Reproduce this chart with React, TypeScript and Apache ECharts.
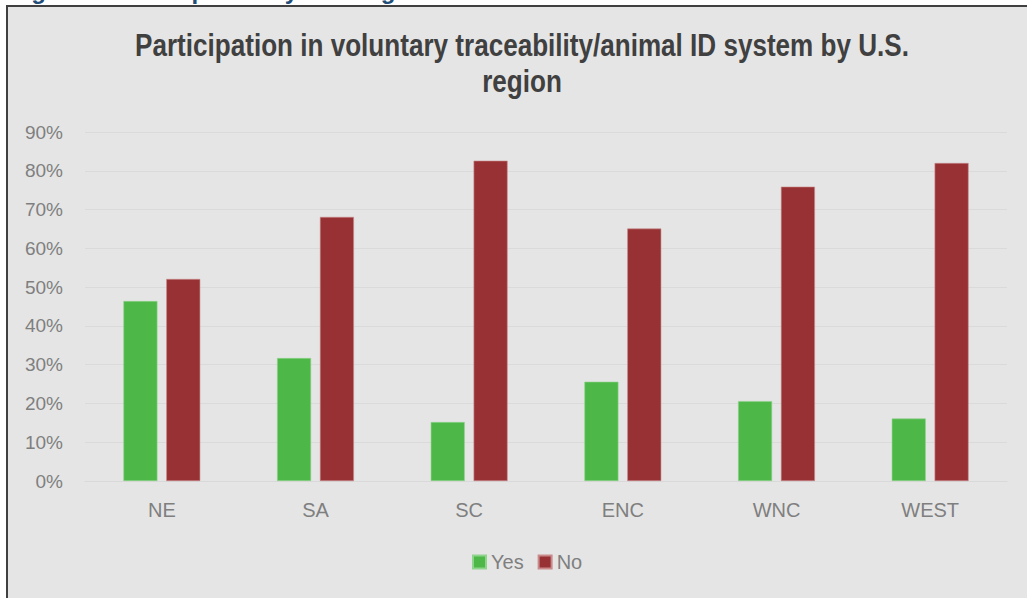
import React, { useEffect, useRef } from "react";
import * as echarts from "echarts";

// Regions along the x axis
const regions = ["NE", "SA", "SC", "ENC", "WNC", "WEST"];
// Share of respondents participating (Yes) / not participating (No)
const yesShare = [0.464, 0.317, 0.152, 0.256, 0.206, 0.161];
const noShare = [0.521, 0.681, 0.826, 0.651, 0.759, 0.820];
const seriesNames = ["Yes", "No"];

const titleLines = ["Participation in voluntary traceability/animal ID system by U.S.", "region"];
const figureCaption = "Figure 4: Participation by U.S. region";

const FONT = "'Liberation Sans', Arial, sans-serif";

export default function App() {
  const ref = useRef<HTMLDivElement>(null);

  useEffect(() => {
    document.body.style.margin = "0";
    if (!ref.current) return;
    const chart = echarts.init(ref.current, null, { renderer: "svg" });

    // Condensed bold title, one text element per line
    const titleGraphics = titleLines.map((line, i) => ({
      type: "text",
      x: 522,
      y: 45.5 + i * 36,
      scaleX: 0.815,
      z: 5,
      style: {
        text: line,
        font: `bold 32px ${FONT}`,
        fill: "#404040",
        align: "center",
        verticalAlign: "middle",
      },
    }));

    chart.setOption({
      animation: false,
      backgroundColor: "#ffffff",
      graphic: [
        {
          type: "text",
          x: 10,
          y: -9.5,
          z: 0,
          style: {
            text: figureCaption,
            font: `bold 24px ${FONT}`,
            fill: "#1f4e79",
            verticalAlign: "middle",
          },
        },
        {
          type: "rect",
          z: 1,
          shape: { x: 7, y: 6, width: 1040, height: 620 },
          style: { fill: "#e5e5e5", stroke: "#404040", lineWidth: 2 },
        },
        ...titleGraphics,
      ],
      legend: {
        data: seriesNames,
        top: 552,
        left: 472,
        padding: 0,
        itemWidth: 13,
        itemHeight: 13,
        itemGap: 14,
        icon: "rect",
        textStyle: { fontFamily: FONT, fontSize: 20, color: "#7f7f7f" },
        z: 5,
      },
      grid: { left: 85, right: 20, top: 132, bottom: 117, z: 5 },
      xAxis: {
        type: "category",
        data: regions,
        z: 5,
        axisLine: { lineStyle: { color: "#d9d9d9", width: 1 } },
        axisTick: { show: false },
        axisLabel: { fontFamily: FONT, fontSize: 20, color: "#7f7f7f", margin: 19 },
      },
      yAxis: {
        type: "value",
        min: 0,
        max: 0.9,
        interval: 0.1,
        z: 5,
        axisLine: { show: false },
        axisTick: { show: false },
        splitLine: { lineStyle: { color: "#dadada", width: 1 } },
        axisLabel: {
          fontFamily: FONT,
          fontSize: 19,
          color: "#7f7f7f",
          margin: 22,
          formatter: (v: number) => `${Math.round(v * 100)}%`,
        },
      },
      series: [
        {
          name: seriesNames[0],
          type: "bar",
          data: yesShare,
          barWidth: 34,
          barGap: "26%",
          z: 5,
          itemStyle: { color: "#4db848", borderColor: "#8fd48c", borderWidth: 0.6 },
        },
        {
          name: seriesNames[1],
          type: "bar",
          data: noShare,
          barWidth: 34,
          barGap: "26%",
          z: 5,
          itemStyle: { color: "#983133", borderColor: "#c98a8b", borderWidth: 0.6 },
        },
      ],
    });
    return () => chart.dispose();
  }, []);

  return <div ref={ref} style={{ width: 1027, height: 598 }} />;
}
